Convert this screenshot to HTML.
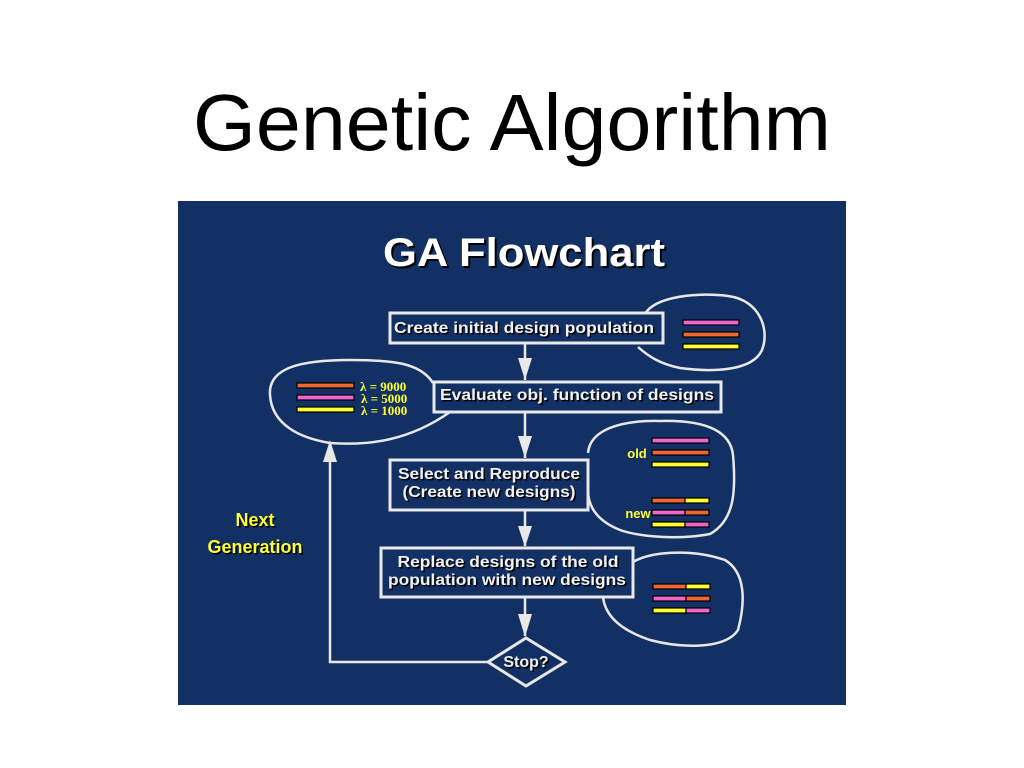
<!DOCTYPE html>
<html><head><meta charset="utf-8"><style>
html,body{margin:0;padding:0;background:#fff;width:1024px;height:768px;overflow:hidden}
</style></head><body>
<svg width="1024" height="768" viewBox="0 0 1024 768" xmlns="http://www.w3.org/2000/svg" font-family="Liberation Sans, sans-serif">
<text x="512" y="150" text-anchor="middle" font-size="80" fill="#000" textLength="638" lengthAdjust="spacingAndGlyphs">Genetic Algorithm</text>
<rect x="178" y="201" width="668" height="504" fill="#123064"/>
<g font-weight="bold">
<text x="526" y="268" text-anchor="middle" font-size="40" fill="#000" textLength="282" lengthAdjust="spacingAndGlyphs">GA Flowchart</text>
<text x="524" y="266" text-anchor="middle" font-size="40" fill="#fff" textLength="282" lengthAdjust="spacingAndGlyphs">GA Flowchart</text>
</g>
<g fill="none" stroke="#e8e8e8" stroke-width="2.5">
<path d="M645,314 C655,296 700,292 728,296 C760,300 770,330 762,350 C752,372 710,372 680,368 C660,364 648,356 638,347"/>
<path d="M433,383 C420,362 390,360 350,360 C300,360 268,368 270,395 C272,425 300,438 330,443 C370,446 410,440 450,412"/>
<path d="M588,453 C590,430 620,420 660,421 C700,420 730,428 733,455 C736,490 735,520 710,534 C680,540 640,537 620,530 C595,520 588,505 588,490"/>
<path d="M633,562 C650,552 690,548 725,560 C745,572 746,600 738,630 C725,650 680,648 650,640 C620,630 605,615 603,597"/>
<rect x="390" y="313" width="273" height="30" stroke-width="3"/>
<rect x="434" y="382" width="287" height="30" stroke-width="3"/>
<rect x="390" y="460" width="198" height="50" stroke-width="3"/>
<rect x="381" y="548" width="252" height="49" stroke-width="3"/>
<path d="M526,638 L565,662 L526,686 L488,662 Z" stroke-width="3"/>
<path d="M525,343 V380 M525,412 V458 M525,510 V546 M525,597 V636 M488,662 H330 V446"/>
</g>
<g fill="#e8e8e8">
<path d="M518,358 L532,358 L525,380 Z"/>
<path d="M518,436 L532,436 L525,458 Z"/>
<path d="M518,526 L532,526 L525,547 Z"/>
<path d="M518,614 L532,614 L525,637 Z"/>
<path d="M323,462 L337,462 L330,440 Z"/>
</g>
<g font-weight="bold" font-size="16" text-anchor="middle">
<g fill="#000" transform="translate(1.5,1.5)">
<text x="524" y="333" textLength="260" lengthAdjust="spacingAndGlyphs">Create initial design population</text>
<text x="577" y="400" textLength="274" lengthAdjust="spacingAndGlyphs">Evaluate obj. function of designs</text>
<text x="489" y="479" textLength="182" lengthAdjust="spacingAndGlyphs">Select and Reproduce</text>
<text x="489" y="497" textLength="173" lengthAdjust="spacingAndGlyphs">(Create new designs)</text>
<text x="508" y="567" textLength="221" lengthAdjust="spacingAndGlyphs">Replace designs of the old</text>
<text x="507" y="585" textLength="238" lengthAdjust="spacingAndGlyphs">population with new designs</text>
<text x="526" y="667">Stop?</text>
<text x="255" y="526" font-size="18">Next</text>
<text x="255" y="553" font-size="18">Generation</text>
</g>
<g fill="#f2f2f2">
<text x="524" y="333" textLength="260" lengthAdjust="spacingAndGlyphs">Create initial design population</text>
<text x="577" y="400" textLength="274" lengthAdjust="spacingAndGlyphs">Evaluate obj. function of designs</text>
<text x="489" y="479" textLength="182" lengthAdjust="spacingAndGlyphs">Select and Reproduce</text>
<text x="489" y="497" textLength="173" lengthAdjust="spacingAndGlyphs">(Create new designs)</text>
<text x="508" y="567" textLength="221" lengthAdjust="spacingAndGlyphs">Replace designs of the old</text>
<text x="507" y="585" textLength="238" lengthAdjust="spacingAndGlyphs">population with new designs</text>
<text x="526" y="667">Stop?</text>
</g>
<text x="255" y="526" font-size="18" fill="#ffff33">Next</text>
<text x="255" y="553" font-size="18" fill="#ffff33">Generation</text>
<text x="637" y="458" font-size="13" fill="#ffff33">old</text>
<text x="638" y="518" font-size="13" fill="#ffff33">new</text>
</g>
<g font-family="Liberation Serif, serif" font-weight="bold" font-size="13" fill="#ffff33">
<text x="360" y="391">λ = 9000</text>
<text x="361" y="403">λ = 5000</text>
<text x="361" y="415">λ = 1000</text>
</g>
<g stroke="#000" stroke-width="1.2">
<rect x="683" y="320" width="56" height="5" fill="#ee66cc"/>
<rect x="683" y="332" width="56" height="5" fill="#ee6633"/>
<rect x="683" y="344" width="56" height="5" fill="#ffff33"/>
<rect x="297" y="383" width="57" height="5" fill="#ee6633"/>
<rect x="297" y="395" width="57" height="5" fill="#ee66cc"/>
<rect x="297" y="407" width="57" height="5" fill="#ffff33"/>
<rect x="652" y="438" width="57" height="5" fill="#ee66cc"/>
<rect x="652" y="450" width="57" height="5" fill="#ee6633"/>
<rect x="652" y="462" width="57" height="5" fill="#ffff33"/>
<rect x="652" y="498" width="33" height="5" fill="#ee6633"/><rect x="685" y="498" width="24" height="5" fill="#ffff33"/>
<rect x="652" y="510" width="33" height="5" fill="#ee66cc"/><rect x="685" y="510" width="24" height="5" fill="#ee6633"/>
<rect x="652" y="522" width="33" height="5" fill="#ffff33"/><rect x="685" y="522" width="24" height="5" fill="#ee66cc"/>
<rect x="653" y="584" width="33" height="5" fill="#ee6633"/><rect x="686" y="584" width="24" height="5" fill="#ffff33"/>
<rect x="653" y="596" width="33" height="5" fill="#ee66cc"/><rect x="686" y="596" width="24" height="5" fill="#ee6633"/>
<rect x="653" y="608" width="33" height="5" fill="#ffff33"/><rect x="686" y="608" width="24" height="5" fill="#ee66cc"/>
</g>
</svg>
</body></html>
